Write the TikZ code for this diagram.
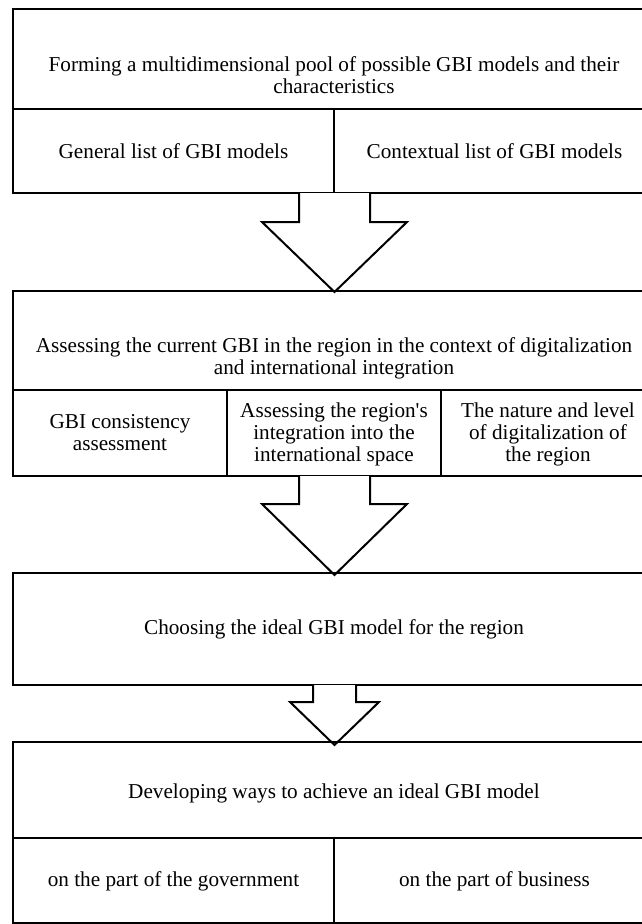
\documentclass[tikz,border=0pt]{standalone}
\usepackage{fontspec}
\setmainfont{Liberation Serif}

\tikzstyle{lbl} = [align=center, inner sep=0pt, font=\fontsize{21.2}{22}\selectfont]
\tikzstyle{bigarrow} = [draw, fill=white, line join=miter]

\begin{document}
\begin{tikzpicture}[x=1pt,y=-1pt,line width=2pt]
			\clip (0,0) rectangle (642,924);
			\fill[white] (0,0) rectangle (642,924);
			% first stage
			\draw (12.5,9) rectangle (655.5,193);
			\draw (12.5,108.7) -- (655.5,108.7);
			\draw (334,108.7) -- (334,193);
			\node[lbl] (pool) at (334,75) {Forming a multidimensional pool of possible GBI models and their\\characteristics};
			\node[lbl] (general) at (173.5,151) {General list of GBI models};
			\node[lbl] (context) at (494.5,151) {Contextual list of GBI models};
			\draw[bigarrow] (299,193) -- (299,222) -- (262,222) -- (334.5,292) -- (407,222) -- (370,222) -- (370,193);
			% second stage
			\draw (12.5,291) rectangle (655.5,476);
			\draw (12.5,390) -- (655.5,390);
			\draw (227,390) -- (227,476);
			\draw (441,390) -- (441,476);
			\node[lbl] (current) at (334,358) {Assessing the current GBI in the region in the context of digitalization\\and international integration};
			\node[lbl] (consist) at (120,433) {GBI consistency\\assessment};
			\node[lbl] (integr) at (334,434) {Assessing the region\textquotesingle s\\integration into the\\international space};
			\node[lbl] (digit) at (548,434) {The nature and level\\of digitalization of\\the region};
			\draw[bigarrow] (299,476) -- (299,504) -- (262,504) -- (334.5,575) -- (407,504) -- (370,504) -- (370,476);
			% third stage
			\draw (12.5,573) rectangle (655.5,685);
			\node[lbl] (ideal) at (334,629) {Choosing the ideal GBI model for the region};
			\draw[bigarrow] (313,685) -- (313,702) -- (290,702) -- (334.5,745) -- (379,702) -- (356,702) -- (356,685);
			% fourth stage
			\draw (12.5,742) rectangle (655.5,923);
			\draw (12.5,838) -- (655.5,838);
			\draw (334,838) -- (334,923);
			\node[lbl] (ways) at (334,793) {Developing ways to achieve an ideal GBI model};
			\node[lbl] (govt) at (173.5,881) {on the part of the government};
			\node[lbl] (business) at (494.5,881) {on the part of business};
		\end{tikzpicture}
\end{document}
